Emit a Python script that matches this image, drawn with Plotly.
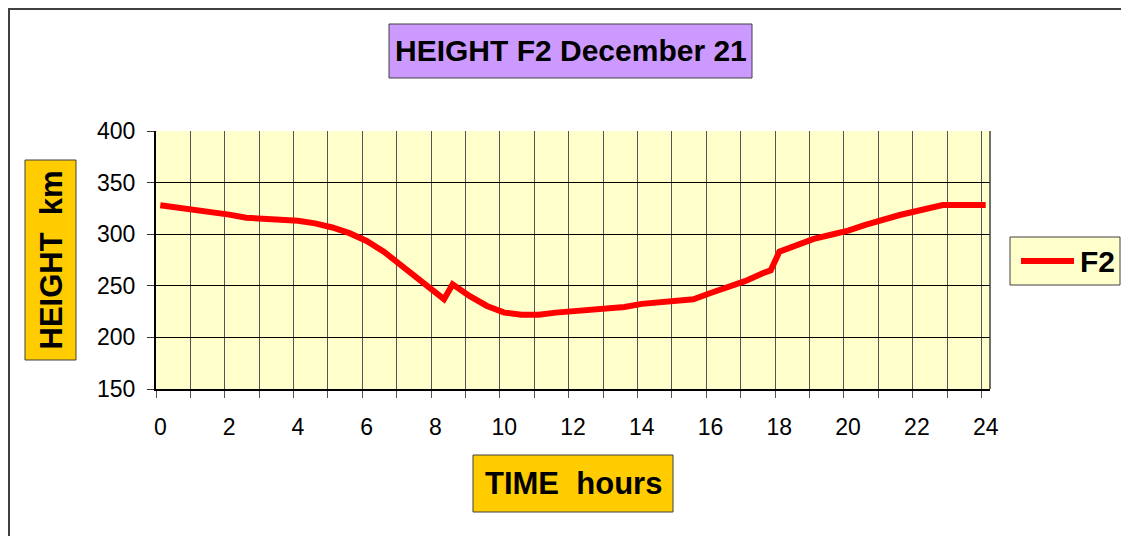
import plotly.graph_objects as go

# ---- data ----
hours = [0, 0.5, 1.0, 1.5, 2.0, 2.5, 3.0, 3.5, 4.0, 4.5, 5.0, 5.5, 6.0, 6.5, 7.0, 7.5,
         8.0, 8.25, 8.5, 9.0, 9.5, 10.0, 10.5, 11.0, 11.5, 12.0, 12.5, 13.0, 13.5, 14.0,
         14.5, 15.0, 15.5, 16.0, 16.5, 17.0, 17.5, 17.75, 18.0, 18.5, 19.0, 19.5, 20.0,
         20.5, 21.0, 21.5, 22.0, 22.5, 22.75, 23.0, 23.5, 24.0]
height_f2 = [328, 326, 323, 321, 319, 316, 315, 314.5, 313, 310.5, 306.5, 301, 293.5, 283,
             270, 256, 243.5, 237, 251.5, 240, 230.5, 224, 222, 222, 224, 225.5, 227, 229,
             229.5, 232.5, 233.7, 235.5, 237, 243, 248.5, 254.5, 262, 265, 283, 289.5,
             295.5, 299.5, 303.5, 309, 314.5, 318.6, 322.5, 326.5, 328.3, 328.3, 328.3, 328.3]
series_name = "F2"
title_text = "HEIGHT F2 December 21"
x_title = "TIME  hours"
y_title = "HEIGHT  km"
x_tick_vals = list(range(0, 25, 2))
y_tick_vals = [150, 200, 250, 300, 350, 400]

FONT = "Liberation Sans, Arial, sans-serif"
W, H = 1121, 528
OFF = 8  # page body margin
ML, MR, MT, MB = 148, 139, 123, 147
PW = W - ML - MR
PH = H - MT - MB


def px(x):
    return (x - OFF - ML) / PW


def py(y):
    return (H - MB - (y - OFF)) / PH


fig = go.Figure()
fig.add_trace(go.Scatter(
    x=hours, y=height_f2, mode="lines", name=series_name,
    line=dict(color="#FF0000", width=6), showlegend=False,
))

BORDER = "#404040"
shapes = []
# outer chart border
shapes.append(dict(type="rect", xref="paper", yref="paper",
                   x0=px(9), x1=px(1180), y0=py(600), y1=py(9),
                   line=dict(color=BORDER, width=2), fillcolor="rgba(0,0,0,0)", layer="below"))
# title box
shapes.append(dict(type="rect", xref="paper", yref="paper",
                   x0=px(389), x1=px(752), y0=py(78), y1=py(24),
                   line=dict(color=BORDER, width=1), fillcolor="#CC99FF", layer="below"))
# y title box
shapes.append(dict(type="rect", xref="paper", yref="paper",
                   x0=px(25), x1=px(76), y0=py(360), y1=py(160),
                   line=dict(color=BORDER, width=1), fillcolor="#FFCC00", layer="below"))
# x title box
shapes.append(dict(type="rect", xref="paper", yref="paper",
                   x0=px(473), x1=px(673), y0=py(512), y1=py(455),
                   line=dict(color=BORDER, width=1), fillcolor="#FFCC00", layer="below"))
# legend box
shapes.append(dict(type="rect", xref="paper", yref="paper",
                   x0=px(1010), x1=px(1120), y0=py(285), y1=py(237),
                   line=dict(color=BORDER, width=1), fillcolor="#FFFFCC", layer="below"))
shapes.append(dict(type="line", xref="paper", yref="paper",
                   x0=px(1021), x1=px(1074), y0=py(261), y1=py(261),
                   line=dict(color="#FF0000", width=6)))
# plot area border (right side)
shapes.append(dict(type="line", xref="paper", yref="paper",
                   x0=1, x1=1, y0=0, y1=1,
                   line=dict(color=BORDER, width=1.5)))

BOLD = dict(family=FONT, size=31, color="black")
annotations = [
    dict(text="<b>%s</b>" % title_text, xref="paper", yref="paper",
         x=px(570.5), y=py(51), xanchor="center", yanchor="middle",
         showarrow=False, font=dict(family=FONT, size=30, color="black")),
    dict(text="<b>%s</b>" % y_title, xref="paper", yref="paper", textangle=-90,
         x=px(50.5), y=py(260), xanchor="center", yanchor="middle",
         showarrow=False, font=BOLD),
    dict(text="<b>%s</b>" % x_title, xref="paper", yref="paper",
         x=px(573), y=py(483), xanchor="center", yanchor="middle",
         showarrow=False, font=BOLD),
    dict(text="<b>%s</b>" % series_name, xref="paper", yref="paper",
         x=px(1078), y=py(261), xanchor="left", yanchor="middle",
         showarrow=False, font=dict(family=FONT, size=30, color="black")),
]

fig.update_layout(
    width=W, height=H,
    margin=dict(l=ML, r=MR, t=MT, b=MB, pad=0),
    paper_bgcolor="white",
    plot_bgcolor="#FFFFCC",
    shapes=shapes,
    annotations=annotations,
    font=dict(family=FONT, size=23, color="black"),
    showlegend=False,
)
fig.update_xaxes(
    range=[-0.125, 24.125], tickmode="array", tickvals=x_tick_vals,
    ticks="", showgrid=False, zeroline=False,
    showline=True, linecolor="black", linewidth=2,
    tickfont=dict(family=FONT, size=23, color="black"),
    ticklabelstandoff=16,
    minor=dict(tickmode="linear", tick0=-0.125, dtick=1, showgrid=True,
               gridcolor="#555555", gridwidth=1, ticks="outside", ticklen=7,
               tickcolor="#555555", tickwidth=1),
)
fig.update_yaxes(
    range=[150, 400], tickmode="array", tickvals=y_tick_vals,
    showgrid=True, gridcolor="black", gridwidth=1, zeroline=False,
    showline=True, linecolor="black", linewidth=2,
    ticks="outside", ticklen=7, tickcolor="#333333", tickwidth=1,
    tickfont=dict(family=FONT, size=23, color="black"),
    ticklabelstandoff=7,
)

fig.write_html("out.html")
